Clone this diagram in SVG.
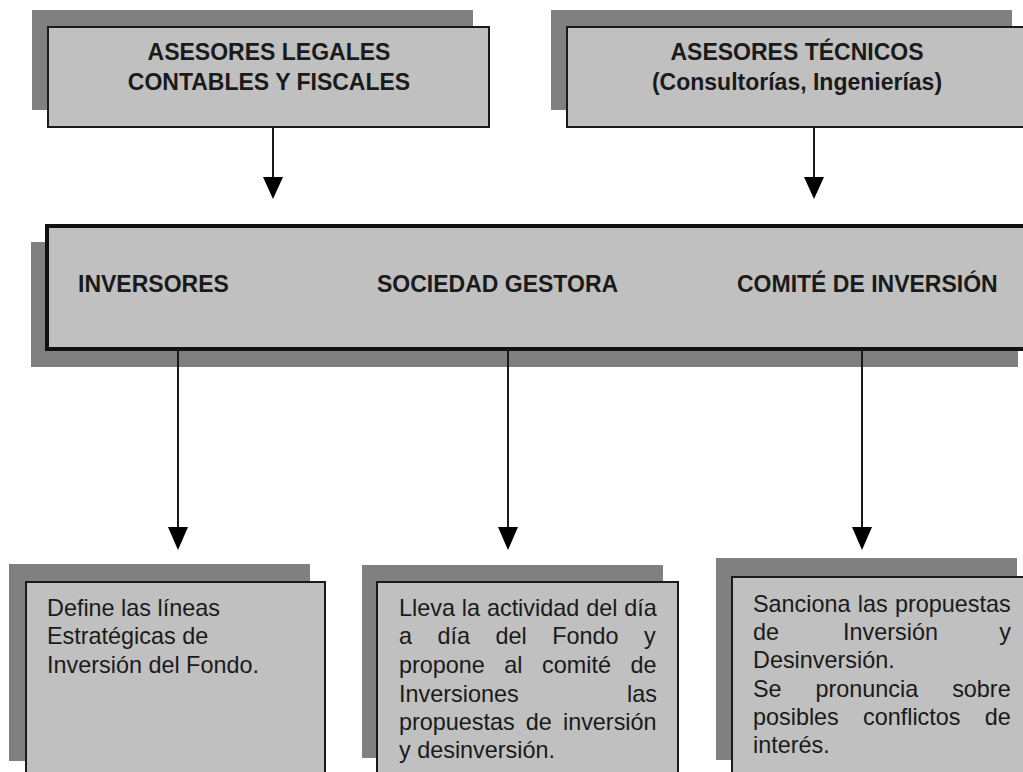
<svg xmlns="http://www.w3.org/2000/svg" width="1023" height="772" viewBox="0 0 1023 772">
<defs>
<style>
.shadow{fill:#808080;}
.box{fill:#c0c0c0;stroke:#1a1a1a;stroke-width:2;}
.bigbox{fill:#c0c0c0;stroke:#111;stroke-width:4;}
.hd{font-family:"Liberation Sans",Arial,sans-serif;font-weight:bold;font-size:23px;fill:#1a1a1a;}
.tx{font-family:"Liberation Sans",Arial,sans-serif;font-size:23.4px;fill:#1a1a1a;}
.ln{stroke:#1a1a1a;stroke-width:2;fill:none;}
.ah{fill:#000;}
</style>
</defs>
<rect width="1023" height="772" fill="#fff"/>

<g id="asesores-legales">
<rect class="shadow" x="32" y="10" width="441" height="100"/>
<rect class="box" x="48" y="27" width="441" height="100"/>
<text class="hd" x="269" y="60" text-anchor="middle">ASESORES LEGALES</text>
<text class="hd" x="269" y="90" text-anchor="middle">CONTABLES Y FISCALES</text>
</g>

<g id="asesores-tecnicos">
<rect class="shadow" x="551" y="10" width="461" height="100"/>
<rect class="box" x="567" y="27" width="470" height="100"/>
<text class="hd" x="797" y="60" text-anchor="middle">ASESORES TÉCNICOS</text>
<text class="hd" x="797" y="90" text-anchor="middle">(Consultorías, Ingenierías)</text>
</g>

<g id="central">
<rect class="shadow" x="31" y="242" width="987" height="125"/>
<rect class="bigbox" x="47" y="226" width="990" height="123"/>
<text class="hd" x="78" y="292">INVERSORES</text>
<text class="hd" x="377" y="292">SOCIEDAD GESTORA</text>
<text class="hd" x="737" y="292">COMITÉ DE INVERSIÓN</text>
</g>

<g id="inversores-desc">
<rect class="shadow" x="9" y="564" width="301" height="197"/>
<rect class="box" x="26" y="582" width="299" height="200"/>
<text class="tx" x="47" y="616">Define las líneas</text>
<text class="tx" x="47" y="644">Estratégicas de</text>
<text class="tx" x="47" y="673">Inversión del Fondo.</text>
</g>

<g id="gestora-desc">
<rect class="shadow" x="362" y="565" width="301" height="193"/>
<rect class="box" x="377" y="582" width="301" height="200"/>
<text class="tx" x="399" y="616" word-spacing="0.4">Lleva la actividad del día</text>
<text class="tx" x="399" y="644" word-spacing="19">a día del Fondo y</text>
<text class="tx" x="399" y="673" word-spacing="13">propone al comité de</text>
<text class="tx" x="399" y="702">Inversiones</text>
<text class="tx" x="657" y="702" text-anchor="end">las</text>
<text class="tx" x="399" y="730" word-spacing="4.6">propuestas de inversión</text>
<text class="tx" x="399" y="758">y desinversión.</text>
</g>

<g id="comite-desc">
<rect class="shadow" x="716" y="558" width="301" height="202"/>
<rect class="box" x="732" y="577" width="310" height="205"/>
<text class="tx" x="753" y="612" word-spacing="0.8">Sanciona las propuestas</text>
<text class="tx" x="753" y="640">de</text>
<text class="tx" x="843" y="640">Inversión</text>
<text class="tx" x="1011" y="640" text-anchor="end">y</text>
<text class="tx" x="753" y="668">Desinversión.</text>
<text class="tx" x="753" y="697" word-spacing="27.4">Se pronuncia sobre</text>
<text class="tx" x="753" y="725" word-spacing="17.7">posibles conflictos de</text>
<text class="tx" x="753" y="753">interés.</text>
</g>

<g id="connectors">
<line class="ln" x1="273" y1="127" x2="273" y2="180"/>
<polygon class="ah" points="263,177 283,177 273,199"/>
<line class="ln" x1="814" y1="127" x2="814" y2="180"/>
<polygon class="ah" points="804,177 824,177 814,199"/>
<line class="ln" x1="178" y1="349" x2="178" y2="530"/>
<polygon class="ah" points="168,527 188,527 178,550"/>
<line class="ln" x1="508" y1="349" x2="508" y2="530"/>
<polygon class="ah" points="498,527 518,527 508,550"/>
<line class="ln" x1="862" y1="349" x2="862" y2="530"/>
<polygon class="ah" points="852,527 872,527 862,550"/>
</g>
</svg>
